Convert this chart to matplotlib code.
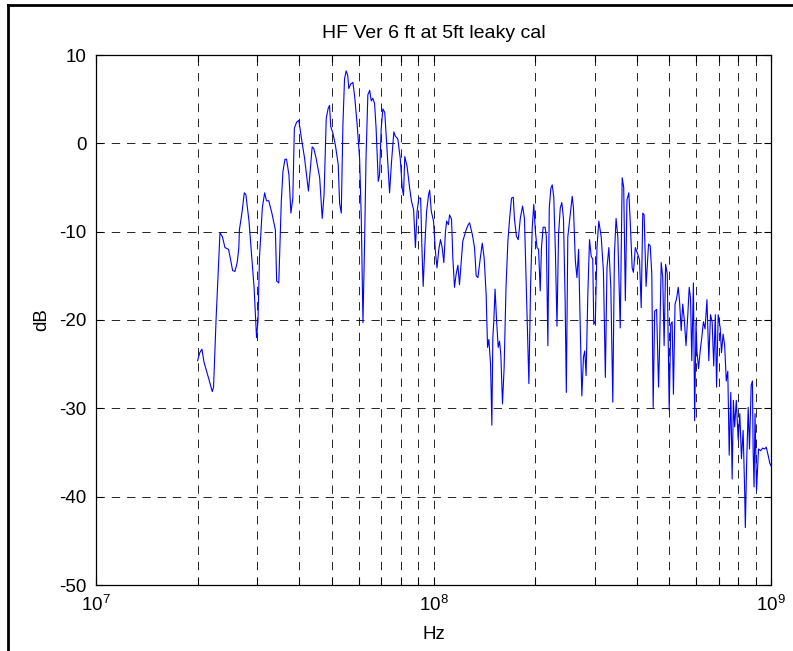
import matplotlib
matplotlib.use('Agg')
import matplotlib.pyplot as plt
from matplotlib.lines import Line2D
from matplotlib.ticker import LogLocator, NullFormatter
import numpy as np

plt.rcParams['font.family'] = ['Liberation Sans', 'DejaVu Sans']
plt.rcParams['lines.scale_dashes'] = False
plt.rcParams['axes.unicode_minus'] = False

title = 'HF Ver 6 ft at 5ft leaky cal'

# frequency (MHz) and level (dB)
freq_mhz = [20.0, 20.3, 20.6, 20.9, 21.6, 22.1, 22.3, 22.7, 23.3, 23.7, 24.1, 24.7, 25.0, 25.4, 25.8,
            26.2, 26.5, 26.6, 27.1, 27.5, 27.8, 28.4, 28.9, 29.4, 29.9, 30.2, 30.5, 31.1, 31.6, 32.0,
            32.5, 33.2, 34.0, 34.3, 34.8, 35.4, 35.8, 36.3, 36.7, 37.3, 37.8, 38.3, 38.7, 39.3, 39.9,
            40.6, 41.5, 42.6, 43.1, 43.7, 44.2, 44.9, 46.0, 46.8, 47.4, 48.1, 48.7, 49.2, 49.6, 50.3,
            51.2, 52.2, 52.7, 53.3, 53.9, 54.5, 55.1, 55.7, 56.1, 56.8, 57.7, 58.4, 59.4, 60.4, 61.1,
            61.8, 62.5, 63.1, 63.9, 64.7, 65.4, 66.1, 66.9, 67.6, 68.6, 69.2, 70.0, 70.8, 71.7, 72.6,
            74.1, 75.1, 76.3, 77.1, 78.4, 79.7, 80.8, 81.5, 82.2, 83.5, 85.0, 86.1, 87.3, 88.4, 89.4,
            90.5, 91.6, 92.4, 93.2, 94.5, 95.4, 96.7, 97.4, 98.5, 100.0, 101.3, 102.4, 103.7, 104.9, 106.1,
            107.3, 108.5, 109.4, 110.7, 111.6, 113.1, 114.1, 115.4, 116.7, 118.1, 119.4, 121.0, 122.1, 124.9, 126.8,
            127.9, 130.3, 132.3, 133.8, 135.4, 137.6, 139.5, 141.3, 143.2, 144.6, 145.9, 147.6, 148.9, 149.9, 150.9,
            152.2, 153.8, 155.5, 156.9, 158.3, 160.1, 161.9, 164.0, 166.1, 168.1, 170.3, 172.3, 173.7, 176.0, 178.3,
            180.8, 183.6, 186.0, 188.8, 191.7, 193.9, 196.1, 198.2, 200.4, 202.6, 204.8, 207.1, 208.9, 211.3, 214.1,
            215.9, 218.2, 220.3, 222.7, 224.8, 227.2, 229.7, 232.2, 234.7, 237.5, 240.0, 242.7, 245.5, 247.5, 250.0,
            254.1, 257.6, 259.8, 263.2, 266.1, 269.1, 272.7, 275.1, 278.2, 280.6, 283.2, 286.6, 289.9, 293.3, 296.4,
            298.4, 301.7, 305.0, 308.9, 314.0, 318.8, 323.0, 326.6, 330.8, 335.3, 339.8, 343.6, 347.5, 351.7, 357.5,
            362.3, 366.1, 370.2, 374.3, 379.1, 382.7, 387.8, 391.2, 396.3, 403.2, 407.8, 412.5, 416.9, 420.8, 426.4,
            433.7, 438.7, 443.4, 447.6, 452.2, 458.2, 464.3, 467.4, 472.8, 477.8, 482.3, 487.3, 492.7, 499.3, 504.7,
            509.5, 513.9, 519.6, 525.0, 531.0, 535.7, 541.9, 547.6, 553.8, 560.0, 566.9, 572.3, 577.4, 582.4, 589.0,
            594.0, 599.5, 603.3, 609.9, 616.9, 623.6, 630.6, 637.7, 646.0, 654.2, 661.8, 669.3, 676.5, 684.0, 689.8,
            697.5, 707.1, 713.3, 721.4, 728.9, 737.1, 744.7, 751.9, 760.0, 767.1, 773.7, 780.4, 789.1, 799.5, 808.2,
            817.5, 826.8, 835.5, 839.3, 846.4, 855.9, 863.5, 873.5, 881.0, 885.1, 890.9, 896.8, 906.1, 918.3, 930.8,
            945.1, 957.6, 968.3, 983.1, 991.7, 1000.0]

level_db = [-24.6, -23.7, -23.3, -24.8, -26.7, -28.1, -27.6, -19.7, -10.1, -10.6, -11.8, -12.0, -13.0, -14.4, -14.5,
            -13.5, -11.8, -9.8, -7.7, -5.6, -5.8, -8.8, -12.6, -16.3, -22.0, -20.1, -13.0, -7.3, -5.6, -6.5,
            -6.5, -7.9, -9.8, -15.6, -15.8, -6.6, -3.2, -1.8, -1.8, -3.6, -7.9, -6.2, 1.7, 2.4, 2.6,
            0.6, -1.7, -5.4, -3.2, -0.4, -0.6, -1.7, -3.9, -8.5, -5.8, 2.8, 3.9, 4.3, 1.9, 1.2,
            -0.2, -2.4, -6.8, -7.9, 2.1, 7.3, 8.2, 7.7, 6.2, 6.7, 6.9, 5.3, 2.1, -1.7, -8.5,
            -20.3, -11.1, -1.7, 5.5, 6.0, 4.8, 5.1, 4.5, 1.7, -4.3, -3.6, 1.7, 3.9, 3.5, 0.2,
            -5.6, -2.1, 1.3, 0.8, 0.5, -1.7, -5.1, -5.9, -1.5, -2.6, -5.1, -6.6, -7.5, -11.8, -7.7,
            -6.2, -6.2, -11.8, -16.2, -10.7, -7.7, -5.8, -5.3, -7.7, -8.8, -12.2, -14.1, -12.0, -10.9, -11.8,
            -13.5, -10.0, -8.8, -9.2, -8.1, -8.6, -13.0, -16.3, -14.8, -13.8, -16.0, -13.0, -11.1, -9.8, -9.2,
            -9.0, -10.3, -11.8, -15.0, -15.2, -13.0, -11.3, -13.0, -17.1, -23.1, -22.2, -25.0, -31.9, -22.0, -20.1,
            -16.5, -20.1, -23.1, -22.4, -23.9, -29.5, -25.4, -16.3, -11.1, -8.5, -6.2, -6.1, -8.5, -10.5, -10.9,
            -8.5, -7.1, -8.5, -17.8, -27.2, -16.3, -9.6, -6.9, -10.0, -11.8, -12.0, -16.7, -11.8, -9.5, -9.5,
            -10.5, -22.9, -7.3, -5.1, -4.7, -6.1, -12.2, -20.7, -10.3, -7.3, -6.7, -8.5, -17.8, -28.2, -10.6,
            -8.1, -6.0, -7.3, -13.3, -15.2, -12.0, -22.4, -28.6, -24.2, -23.5, -26.3, -17.1, -10.9, -12.8, -13.1,
            -20.5, -20.1, -11.8, -8.8, -10.6, -14.5, -26.5, -14.1, -11.8, -16.3, -29.3, -12.6, -8.5, -10.6, -20.9,
            -3.9, -5.0, -17.8, -6.4, -5.6, -8.8, -14.1, -14.6, -11.8, -12.6, -13.2, -18.6, -7.9, -8.1, -16.2,
            -11.4, -11.6, -14.8, -29.9, -19.0, -18.8, -27.6, -23.4, -13.5, -15.2, -22.9, -13.7, -14.8, -30.2, -20.5,
            -20.2, -28.4, -18.2, -17.6, -16.3, -17.8, -21.2, -18.2, -20.1, -22.9, -19.4, -16.3, -17.5, -24.6, -15.8,
            -31.4, -20.2, -23.5, -25.5, -23.5, -22.0, -20.2, -21.0, -17.7, -24.6, -19.4, -20.2, -25.2, -19.4, -27.6,
            -19.4, -20.9, -23.7, -21.6, -22.9, -26.9, -25.8, -35.3, -28.2, -38.0, -29.1, -32.1, -29.1, -33.6, -30.6,
            -35.7, -32.5, -39.3, -43.5, -36.6, -29.9, -34.6, -27.4, -26.9, -34.6, -38.9, -30.6, -39.3, -34.6, -34.8,
            -34.5, -34.6, -34.4, -35.5, -36.2, -36.5]

y_ticks = [10, 0, -10, -20, -30, -40, -50]

fig = plt.figure(figsize=(7.93, 6.51), dpi=100)
ax = fig.add_axes([96 / 793, 1 - 585 / 651, (771 - 96) / 793, (585 - 55) / 651])

ax.semilogx(np.array(freq_mhz) * 1e6, level_db, color='#0000ff', linewidth=0.8)

ax.set_xlim(1e7, 1e9)
ax.set_ylim(-50, 10)
ax.set_yticks(y_ticks)
ax.xaxis.set_major_locator(LogLocator(base=10, numticks=10))
ax.xaxis.set_minor_locator(LogLocator(base=10, subs=np.arange(2, 10), numticks=20))
ax.xaxis.set_minor_formatter(NullFormatter())

ax.tick_params(which='both', direction='in', top=True, right=True, labelsize=13.5, width=0.8)
ax.tick_params(which='major', length=5, pad=7)
ax.tick_params(which='minor', length=5)

ax.grid(True, which='both', axis='x', color='black', linewidth=0.6, linestyle=(0, (6, 5)))
ax.grid(True, which='major', axis='y', color='black', linewidth=0.6, linestyle=(0, (6, 5)))

for s in ax.spines.values():
    s.set_linewidth(0.9)

ax.set_title(title, fontsize=14, pad=12)
ax.set_xlabel('Hz', fontsize=13.5, labelpad=8)
ax.set_ylabel('dB', fontsize=13.5, labelpad=6)

# outer frame: only the left and top edges show in the picture
fig.add_artist(Line2D([8 / 793, 8 / 793], [0, 1 - 5 / 651], transform=fig.transFigure,
                      color='black', linewidth=2))
fig.add_artist(Line2D([8 / 793, 1], [1 - 5 / 651, 1 - 5 / 651], transform=fig.transFigure,
                      color='black', linewidth=2))

fig.savefig('out.png', dpi=100)
